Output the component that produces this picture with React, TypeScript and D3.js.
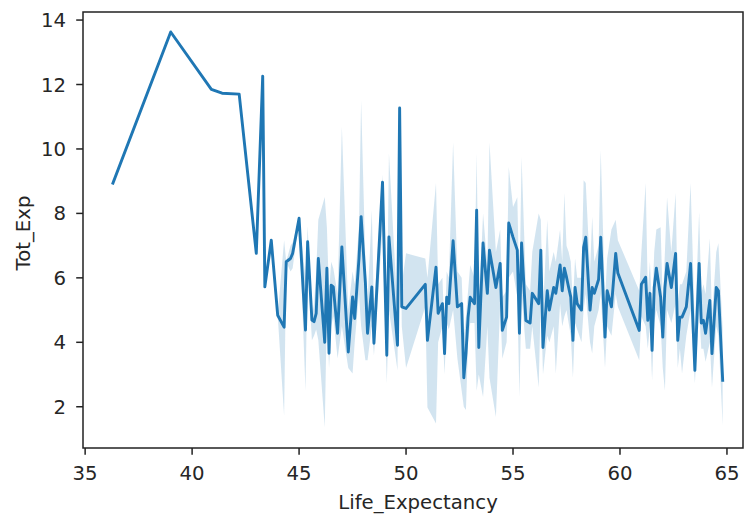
import React from "react";
import * as d3 from "d3";

const lifeExpectancy = [
  36.3, 39.0, 40.9, 41.4, 42.2, 43.0, 43.3, 43.4, 43.7, 44.0,
  44.3, 44.4, 44.6, 44.7, 45.0, 45.3, 45.4, 45.6, 45.7, 45.8,
  45.9, 46.2, 46.3, 46.4, 46.5, 46.6, 46.8, 47.0, 47.3, 47.5,
  47.6, 47.8, 47.9, 48.1, 48.2, 48.4, 48.5, 48.9, 49.1, 49.2,
  49.6, 49.7, 49.8, 50.0, 50.9, 51.0, 51.4, 51.5, 51.7, 51.8,
  51.9, 52.0, 52.2, 52.4, 52.6, 52.7, 52.8, 52.9, 53.0, 53.2,
  53.3, 53.4, 53.6, 53.8, 53.9, 54.2, 54.4, 54.5, 54.7, 54.8,
  55.0, 55.2, 55.3, 55.4, 55.6, 55.8, 55.9, 56.2, 56.3, 56.4,
  56.6, 56.7, 56.9, 57.0, 57.2, 57.3, 57.4, 57.5, 57.6, 57.7,
  57.8, 57.9, 58.0, 58.2, 58.3, 58.4, 58.6, 58.7, 58.8, 59.0,
  59.1, 59.3, 59.4, 59.6, 59.8, 59.9, 60.9, 61.0, 61.2, 61.3,
  61.4, 61.5, 61.6, 61.7, 61.9, 62.0, 62.1, 62.2, 62.4, 62.6,
  62.7, 62.8, 62.9, 63.1, 63.3, 63.5, 63.7, 63.8, 63.9, 64.0,
  64.2, 64.3, 64.5, 64.6, 64.8,
];

const totExp = [
  8.94, 13.63, 11.85, 11.73, 11.7, 6.76, 12.26, 5.72, 7.17, 4.84,
  4.47, 6.5, 6.6, 6.76, 7.85, 4.38, 7.12, 4.69, 4.64, 4.9,
  6.6, 4.0, 6.3, 3.66, 5.77, 5.72, 4.28, 6.96, 3.7, 5.41,
  4.74, 6.6, 7.9, 5.84, 4.28, 5.72, 3.97, 8.97, 3.6, 7.27,
  3.91, 11.27, 5.1, 5.05, 5.8, 4.06, 6.33, 4.9, 5.2, 3.65,
  5.4, 5.2, 7.15, 5.1, 5.2, 2.9, 3.65, 4.78, 5.4, 5.2,
  8.1, 3.84, 7.08, 5.52, 6.86, 5.7, 6.45, 4.37, 4.78, 7.7,
  7.26, 6.86, 4.28, 7.08, 4.68, 4.6, 5.52, 5.2, 6.86, 3.84,
  5.6, 5.0, 5.7, 5.52, 6.4, 5.6, 6.3, 6.02, 5.7, 5.4,
  4.06, 5.7, 5.2, 5.0, 6.95, 7.26, 5.0, 5.7, 5.52, 5.95,
  7.26, 4.16, 5.6, 5.1, 6.76, 6.15, 4.37, 5.8, 6.02, 4.68,
  5.52, 3.75, 5.7, 6.3, 5.4, 4.16, 5.7, 6.45, 5.7, 6.76,
  4.06, 4.78, 4.78, 5.1, 6.45, 3.13, 6.45, 4.6, 4.68, 4.28,
  5.3, 3.65, 5.7, 5.6, 2.82,
];

const ciLow = [
  8.94, 13.63, 11.85, 11.73, 11.7, 6.76, 12.26, 5.72, 7.17, 4.84,
  1.73, 6.5, 6.2, 6.3, 7.85, 2.5, 6.4, 4.06, 4.2, 4.4,
  4.06, 1.36, 5.0, 3.2, 4.5, 4.8, 3.5, 4.5, 3.2, 3.03,
  4.0, 5.5, 4.5, 3.44, 3.44, 4.5, 3.6, 7.5, 2.73, 5.0,
  3.13, 11.27, 4.5, 3.2, 5.1, 1.98, 1.48, 4.0, 4.5, 3.0,
  4.6, 4.4, 5.0, 3.5, 2.5, 2.0, 1.9, 4.0, 4.6, 4.6,
  2.5, 3.0, 2.3, 4.5, 2.9, 1.68, 5.2, 3.5, 4.0, 6.0,
  6.2, 5.4, 2.3, 5.5, 3.8, 3.8, 4.5, 2.6, 5.5, 3.0,
  4.2, 4.0, 4.5, 3.03, 5.2, 4.5, 4.8, 5.0, 4.6, 4.2,
  2.9, 4.6, 4.4, 4.0, 5.0, 5.5, 4.0, 3.65, 4.5, 5.0,
  5.5, 3.22, 4.5, 4.2, 5.5, 5.1, 3.44, 4.8, 4.5, 3.8,
  4.5, 2.82, 4.6, 5.0, 4.5, 3.2, 2.5, 5.0, 4.6, 5.2,
  3.2, 3.8, 3.03, 4.2, 5.0, 2.73, 5.0, 3.8, 3.8, 3.4,
  4.0, 2.6, 4.5, 4.2, 1.42,
];

const ciHigh = [
  8.94, 13.63, 11.85, 11.73, 11.7, 6.76, 12.26, 5.72, 7.17, 4.84,
  7.17, 6.5, 7.0, 7.1, 7.85, 6.0, 7.6, 4.8, 5.2, 6.2,
  7.8, 8.51, 7.57, 5.5, 6.5, 6.3, 5.5, 10.69, 5.0, 6.2,
  5.8, 7.6, 11.5, 6.5, 5.2, 8.1, 5.0, 9.2, 4.5, 9.87,
  5.0, 11.27, 5.8, 6.76, 6.6, 6.0, 8.94, 5.8, 6.0, 4.3,
  6.2, 6.0, 10.2, 6.2, 6.0, 4.2, 4.8, 5.6, 6.4, 6.0,
  9.87, 5.0, 8.0, 6.4, 10.2, 6.8, 7.5, 5.4, 5.6, 9.44,
  8.2, 8.5, 5.5, 9.75, 5.8, 5.6, 6.8, 8.0, 7.8, 5.0,
  7.8, 6.2, 6.8, 6.5, 7.5, 6.5, 8.63, 7.0, 6.8, 6.5,
  5.2, 6.6, 6.0, 6.0, 9.03, 8.94, 6.2, 7.9, 6.5, 7.0,
  9.96, 5.3, 6.6, 7.5, 7.8, 7.17, 5.6, 6.8, 8.94, 5.6,
  6.5, 5.0, 6.8, 7.5, 7.57, 5.2, 6.8, 8.5, 6.8, 8.63,
  5.2, 5.8, 5.8, 6.2, 8.94, 4.5, 8.04, 5.5, 5.8, 5.5,
  7.23, 4.8, 6.8, 7.07, 4.4,
];

const xTicks = [35, 40, 45, 50, 55, 60, 65];
const yTicks = [2, 4, 6, 8, 10, 12, 14];
const xLabel = "Life_Expectancy";
const yLabel = "Tot_Exp";

const W = 745;
const H = 515;
const L = 83, R = 743, T = 12, B = 448;
const COLOR = "#1f77b4";
const FONT = "'DejaVu Sans', sans-serif";
const TEXT = "#262626";
const FS = 19.7;

export default function App() {
  const x = d3.scaleLinear().domain([34.9, 65.75]).range([L, R]);
  const y = d3.scaleLinear().domain([0.72, 14.25]).range([B, T]);

  const idx = d3.range(lifeExpectancy.length);
  const area = d3
    .area<number>()
    .x((i) => x(lifeExpectancy[i]))
    .y0((i) => y(ciLow[i]))
    .y1((i) => y(ciHigh[i]));
  const line = d3
    .line<number>()
    .x((i) => x(lifeExpectancy[i]))
    .y((i) => y(totExp[i]));

  return (
    <svg
      width={W}
      height={H}
      style={{ position: "absolute", left: 0, top: 0, background: "#fff" }}
      fontFamily={FONT}
    >
      <rect x={0} y={0} width={W} height={H} fill="#fff" />
      <path d={area(idx) || ""} fill={COLOR} fillOpacity={0.2} stroke="none" />
      <path
        d={line(idx) || ""}
        fill="none"
        stroke={COLOR}
        strokeWidth={2.9}
        strokeLinejoin="round"
        strokeLinecap="square"
      />
      <rect
        x={L}
        y={T}
        width={R - L}
        height={B - T}
        fill="none"
        stroke="#222"
        strokeWidth={1.5}
      />
      {xTicks.map((t) => (
        <g key={"x" + t}>
          <line x1={x(t)} x2={x(t)} y1={B} y2={B + 6.8} stroke="#222" strokeWidth={1.5} />
          <text x={x(t)} y={480} textAnchor="middle" fontSize={FS} fill={TEXT}>
            {t}
          </text>
        </g>
      ))}
      {yTicks.map((t) => (
        <g key={"y" + t}>
          <line x1={L - 6.8} x2={L} y1={y(t)} y2={y(t)} stroke="#222" strokeWidth={1.5} />
          <text
            x={66}
            y={y(t)}
            dy="0.36em"
            textAnchor="end"
            fontSize={FS}
            fill={TEXT}
          >
            {t}
          </text>
        </g>
      ))}
      <text x={418} y={509} textAnchor="middle" fontSize={FS} fill={TEXT}>
        {xLabel}
      </text>
      <text
        transform={`translate(30, ${(T + B) / 2 + 3}) rotate(-90)`}
        textAnchor="middle"
        fontSize={FS}
        fill={TEXT}
      >
        {yLabel}
      </text>
    </svg>
  );
}
